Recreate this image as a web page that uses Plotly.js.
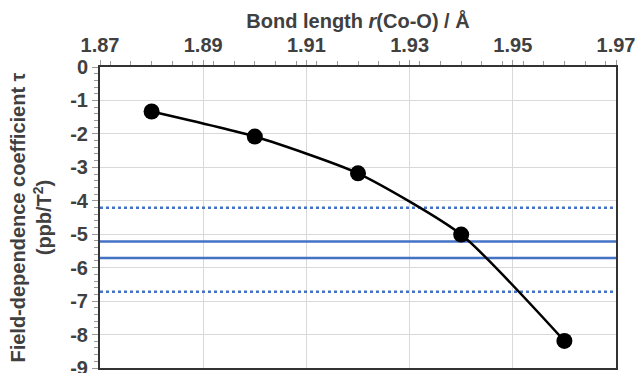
<!DOCTYPE html>
<html>
<head>
<meta charset="utf-8">
<script src="https://cdn.plot.ly/plotly-3.0.1.min.js"></script>
<style>html,body{margin:0;padding:0;background:#fff;}#chart{width:636px;height:373px;}</style>
</head>
<body>
<div id="chart"></div>
<script>
// Data
const bondLength = [1.88, 1.90, 1.92, 1.94, 1.96];
const tau = [-1.33, -2.08, -3.18, -5.01, -8.19];
const solidLevels = [-5.22, -5.71];
const dottedLevels = [-4.21, -6.72];
const xRange = [1.87, 1.97];
const yTickVals = [0, -1, -2, -3, -4, -5, -6, -7, -8, -9];
const yTickText = ['0', '-1', '-2', '-3', '-4', '-5', '-6', '-7', '-8', '-9'];
const xTickVals = [1.87, 1.89, 1.91, 1.93, 1.95, 1.97];
const xTickText = ['1.87', '1.89', '1.91', '1.93', '1.95', '1.97'];

const blue = '#4472C4';
const traces = [];
solidLevels.forEach(v => traces.push({
  x: xRange, y: [v, v], mode: 'lines', type: 'scatter',
  line: {color: blue, width: 2.5}, hoverinfo: 'skip', showlegend: false
}));
dottedLevels.forEach(v => traces.push({
  x: xRange, y: [v, v], mode: 'lines', type: 'scatter',
  line: {color: blue, width: 2.5, dash: 'dot'}, hoverinfo: 'skip', showlegend: false
}));
traces.push({
  x: bondLength, y: tau, mode: 'lines+markers', type: 'scatter',
  line: {color: '#000', width: 2.5, shape: 'spline', smoothing: 0.6},
  marker: {color: '#000', size: 16},
  showlegend: false
});

const fontBase = {family: '"Liberation Sans", Arial, sans-serif', size: 20, color: '#404040', weight: 'bold'};

const layout = {
  width: 636, height: 373,
  margin: {l: 100, r: 20, t: 67, b: 5},
  paper_bgcolor: '#fff', plot_bgcolor: '#fff',
  showlegend: false,
  font: fontBase,
  xaxis: {
    side: 'top', range: xRange, tickvals: xTickVals, ticktext: xTickText,
    showgrid: true, gridcolor: '#d9d9d9', gridwidth: 1,
    zeroline: false, showline: true, mirror: true, linecolor: '#333', linewidth: 2,
    ticks: 'outside', ticklen: 5, tickcolor: '#999', tickwidth: 1,
    minor: {dtick: 0.004, ticks: 'outside', ticklen: 4, tickcolor: '#999', showgrid: false},
    tickfont: fontBase, ticklabeloverflow: 'allow',
    title: {text: 'Bond length <i>r</i>(Co-O) / Å', font: fontBase, standoff: 0}
  },
  yaxis: {
    range: [-9, 0], tickvals: yTickVals, ticktext: yTickText,
    showgrid: true, gridcolor: '#d9d9d9', gridwidth: 1,
    zeroline: false, showline: true, mirror: true, linecolor: '#333', linewidth: 2,
    ticks: 'outside', ticklen: 6, tickcolor: '#999', tickwidth: 1,
    minor: {dtick: 0.2, ticks: 'outside', ticklen: 4, tickcolor: '#999', showgrid: false},
    tickfont: fontBase, ticklabeloverflow: 'allow',
    title: {text: 'Field-dependence coefficient τ<br>(ppb/T<sup>2</sup>)', font: fontBase, standoff: 13}
  }
};

Plotly.newPlot('chart', traces, layout, {displayModeBar: false, staticPlot: true});
</script>
</body>
</html>
